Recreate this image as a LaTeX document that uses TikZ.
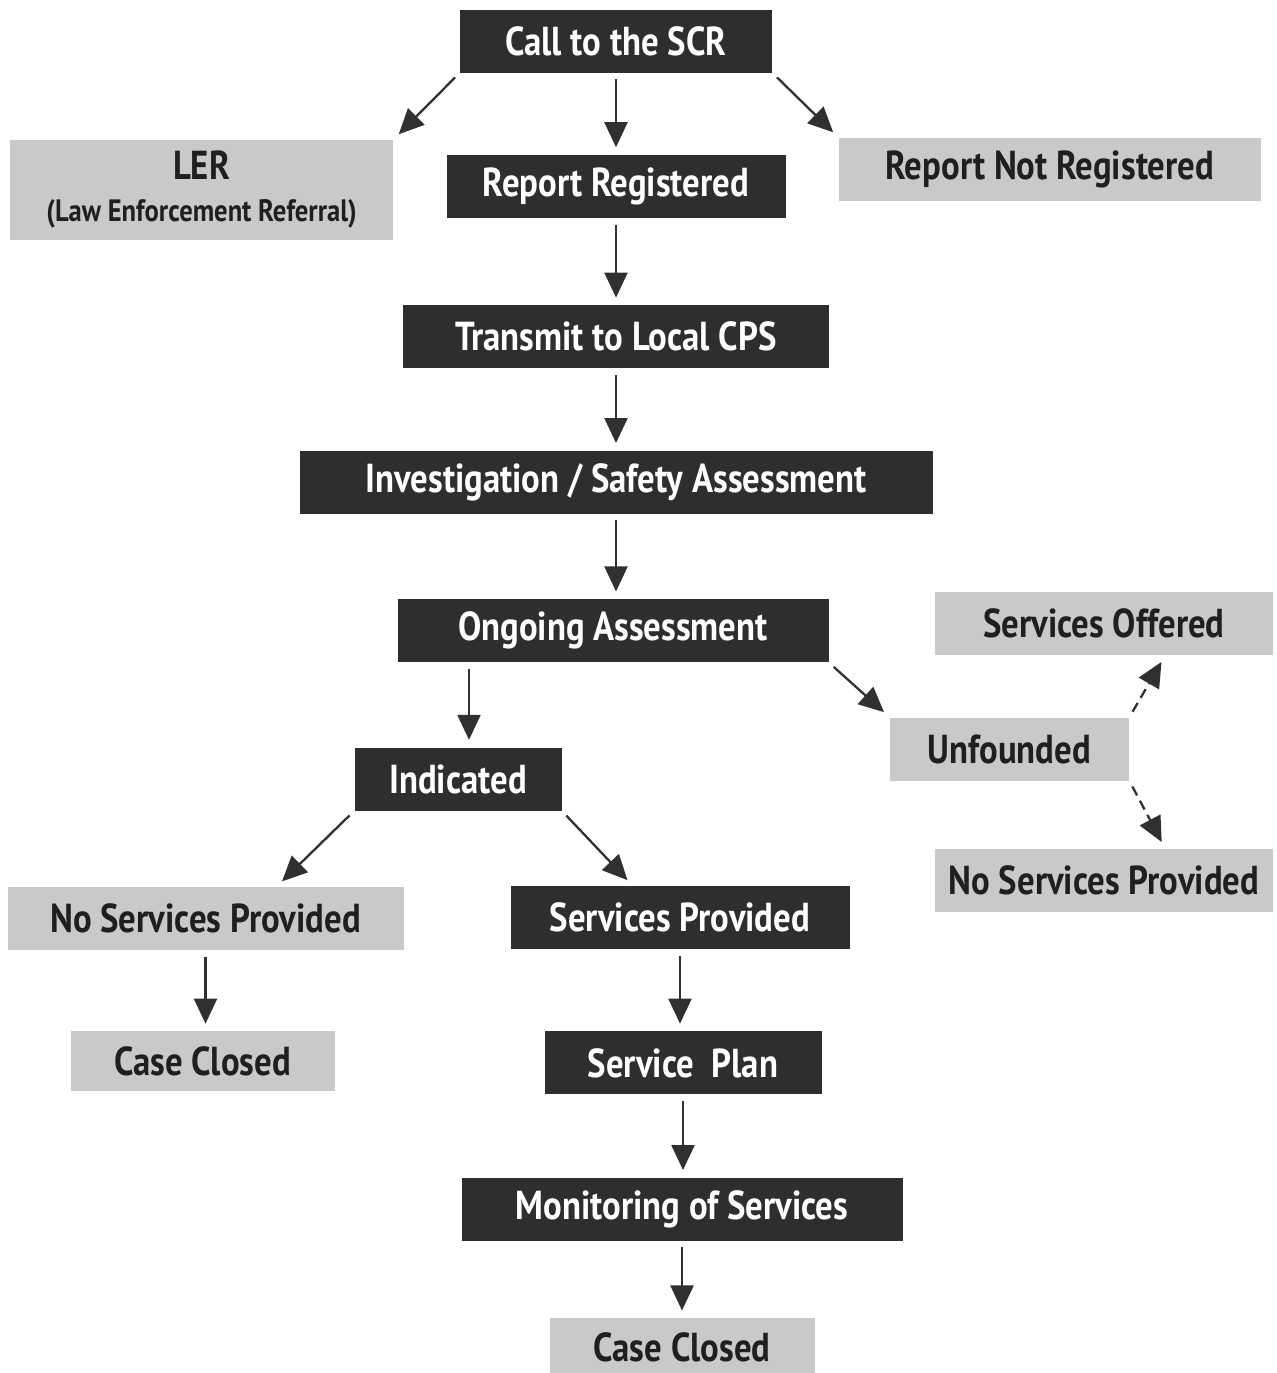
\documentclass[tikz,border=0pt]{standalone}
\usepackage{fontspec}
\setmainfont[FakeStretch=0.86]{PT Sans}
\usepackage{xcolor}
\usetikzlibrary{arrows.meta, positioning, calc}
\definecolor{boxdark}{HTML}{2E2E2E}
\definecolor{boxlight}{HTML}{C9C9C9}
\definecolor{arrowgray}{HTML}{303030}

\begin{document}
\begin{tikzpicture}[
    node distance=0.85cm,
    every node/.style={minimum height=0.63cm, inner sep=0pt, align=center, font=\bfseries\fontsize{11.5}{13}\selectfont},
    darkbox/.style={fill=boxdark, text=white},
    lightbox/.style={fill=boxlight, text=black!88},
    arrow/.style={-{Triangle[length=2.5mm, width=2.3mm]}, line width=0.65pt, color=arrowgray, shorten <=0.6mm, shorten >=0.7mm},
    dasharrow/.style={arrow, dash pattern=on 1mm off 0.6mm}
]
\useasboundingbox (0,0) rectangle (12.77,-13.73);

\node (call) [darkbox, minimum width=3.12cm] at (6.16,-0.41) {Call to the SCR};
\node (rr) [darkbox, minimum width=3.39cm, below=0.81cm of call] {Report Registered};
\node (ler) [lightbox, minimum width=3.83cm, minimum height=1cm, left=0.52cm of rr, yshift=-0.035cm] {LER\\[-1pt]{\fontsize{8.8}{10}\selectfont (Law Enforcement Referral)}};
\node (rnr) [lightbox, minimum width=4.22cm, right=0.52cm of rr, yshift=0.17cm] {Report Not Registered};
\node (cps) [darkbox, minimum width=4.26cm, below=0.86cm of rr] {Transmit to Local CPS};
\node (inv) [darkbox, minimum width=6.33cm, below=0.81cm of cps] {Investigation / Safety Assessment};
\node (ongoing) [darkbox, minimum width=4.31cm, below=0.84cm of inv, xshift=-0.03cm] {Ongoing Assessment};

% unfounded branch
\node (unfounded) [lightbox, minimum width=2.39cm, below right=0.54cm and 0.60cm of ongoing] {Unfounded};
\node (offered) [lightbox, minimum width=3.38cm, above=0.61cm of unfounded, xshift=0.945cm] {Services Offered};
\node (nspr) [lightbox, minimum width=3.38cm, below=0.67cm of unfounded, xshift=0.945cm] {No Services Provided};

% indicated branch
\node (indicated) [darkbox, minimum width=2.07cm, below=0.84cm of ongoing, xshift=-1.55cm] {Indicated};
\node (nspl) [lightbox, minimum width=3.96cm, below=0.75cm of indicated, xshift=-2.525cm] {No Services Provided};
\node (closedl) [lightbox, minimum width=2.64cm, minimum height=0.6cm, below=0.80cm of nspl, xshift=-0.03cm] {Case Closed};
\node (sp) [darkbox, minimum width=3.39cm, below=0.74cm of indicated, xshift=2.22cm] {Services Provided};
\node (plan) [darkbox, minimum width=2.77cm, below=0.81cm of sp, xshift=0.03cm] {Service~~Plan};
\node (mon) [darkbox, minimum width=4.41cm, below=0.82cm of plan, xshift=-0.01cm] {Monitoring of Services};
\node (closedb) [lightbox, minimum width=2.65cm, minimum height=0.58cm, below=0.76cm of mon] {Case Closed};

\draw[arrow] (call.south west) -- (ler.north east);
\draw[arrow] (call) -- (rr);
\draw[arrow] (call.south east) -- (rnr.north west);
\draw[arrow] (rr) -- (cps);
\draw[arrow] (cps) -- (inv);
\draw[arrow] (inv) -- (inv |- ongoing.north);
\draw[arrow] ($(indicated.north)+(0.11,0)$) coordinate (indtop) (ongoing.south -| indtop) -- (indtop);
\draw[arrow] (ongoing.south east) -- (unfounded.north west);
\draw[dasharrow] (unfounded.north east) -- ($(offered.south west)!0.68!(offered.south east)$);
\draw[dasharrow] (unfounded.south east) -- ($(nspr.north west)!0.68!(nspr.north east)$);
\draw[arrow] (indicated.south west) -- ($(nspl.north west)!0.68!(nspl.north east)$);
\draw[arrow] (indicated.south east) -- ($(sp.north west)!0.36!(sp.north east)$);
\draw[arrow] (nspl) -- (nspl |- closedl.north);
\draw[arrow] (sp) -- (sp |- plan.north);
\draw[arrow] (plan) -- (plan |- mon.north);
\draw[arrow] (mon) -- (mon |- closedb.north);
\end{tikzpicture}
\end{document}
